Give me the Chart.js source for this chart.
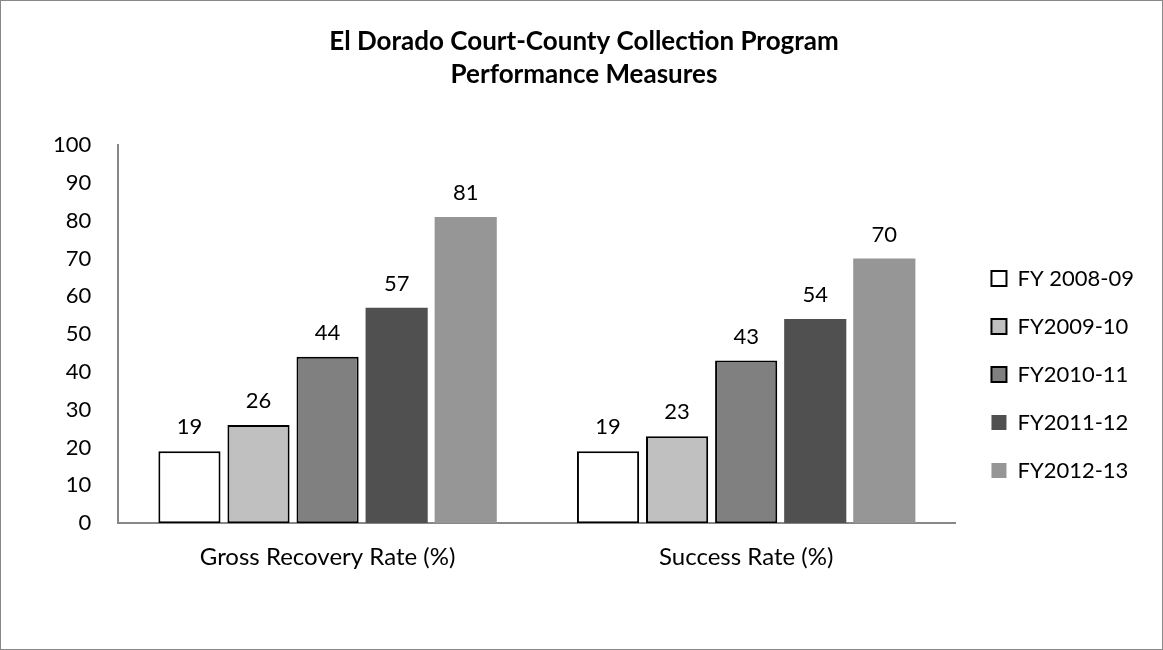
<!DOCTYPE html>
<html>
<head>
<meta charset="utf-8">
<script src="https://cdn.jsdelivr.net/npm/chart.js@4"></script>
<style>
  body { margin: 0; background: #fff; }
  #wrap { width: 1161px; height: 648px; border: 1px solid #888; position: relative; }
</style>
</head>
<body>
<div id="wrap"><canvas id="chart"></canvas></div>
<script>
const categories = ['Gross Recovery Rate (%)', 'Success Rate (%)'];
const seriesNames = ['FY 2008-09', 'FY2009-10', 'FY2010-11', 'FY2011-12', 'FY2012-13'];
const fy0809 = [19, 19];
const fy0910 = [26, 23];
const fy1011 = [44, 43];
const fy1112 = [57, 54];
const fy1213 = [81, 70];

const fills = ['#ffffff', '#c0c0c0', '#808080', '#505050', '#969696'];
const borders = ['#000000', '#000000', '#000000', '#505050', '#969696'];
const borderWidths = [2, 2, 2, 0, 0];
const values = [fy0809, fy0910, fy1011, fy1112, fy1213];

const FONT = 'Lato, "Open Sans", sans-serif';

// value printed above each bar
const valueLabels = {
    id: 'valueLabels',
    afterDatasetsDraw(chart) {
        const c = chart.ctx;
        c.save();
        c.font = '22px ' + FONT;
        c.fillStyle = '#000';
        c.textAlign = 'center';
        c.textBaseline = 'bottom';
        chart.data.datasets.forEach((ds, i) => {
            chart.getDatasetMeta(i).data.forEach((bar, j) => {
                c.fillText(ds.data[j], bar.x, bar.y - 13);
            });
        });
        c.restore();
    }
};

// nudge the legend down/right like the original
const legendOffset = {
    id: 'legendOffset',
    afterLayout(chart) {
        const lg = chart.legend;
        lg.top += 77; lg.bottom += 77;
        lg.left += 10; lg.right += 10;
    }
};

new Chart(document.getElementById('chart'), {
    type: 'bar',
    data: {
        labels: categories,
        datasets: seriesNames.map((name, i) => ({
            label: name,
            data: values[i],
            backgroundColor: fills[i],
            borderColor: borders[i],
            borderWidth: borderWidths[i],
            borderSkipped: false,
            categoryPercentage: 0.825,
            barPercentage: 0.9
        }))
    },
    options: {
        responsive: true,
        maintainAspectRatio: false,
        animation: false,
        layout: { padding: { left: 33, right: 28, top: 10, bottom: 65 } },
        plugins: {
            title: {
                display: true,
                text: ['El Dorado Court-County Collection Program', 'Performance Measures'],
                color: '#000',
                font: { family: FONT, size: 26, weight: 'bold', lineHeight: 1.27 },
                padding: { top: 14, bottom: 54 }
            },
            legend: {
                position: 'right',
                labels: {
                    color: '#000',
                    font: { family: FONT, size: 22 },
                    boxWidth: 15,
                    boxHeight: 15,
                    padding: 26
                }
            },
            tooltip: { enabled: false }
        },
        scales: {
            x: {
                grid: { display: false },
                border: { color: '#888', width: 2 },
                ticks: { color: '#000', font: { family: FONT, size: 24 }, padding: 12 }
            },
            y: {
                min: 0,
                max: 100,
                grid: { display: false },
                border: { color: '#888', width: 2 },
                ticks: { stepSize: 10, color: '#000', font: { family: FONT, size: 22 }, padding: 19 }
            }
        }
    },
    plugins: [valueLabels, legendOffset]
});
</script>
</body>
</html>
